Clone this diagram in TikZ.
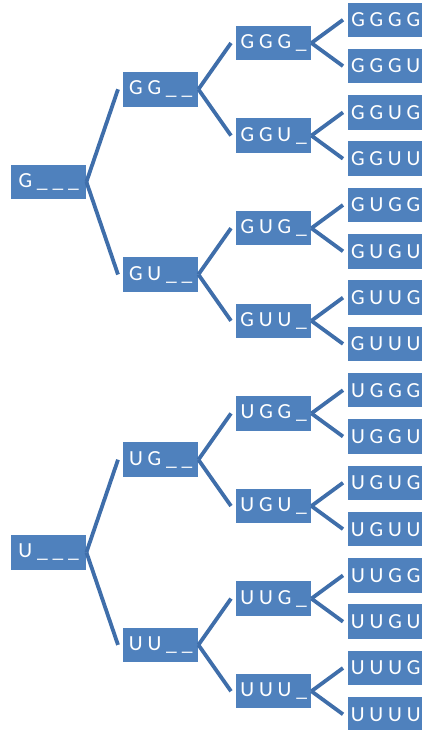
\documentclass[tikz,border=0pt]{standalone}
\usepackage{fontspec}
\setmainfont{Carlito}
\definecolor{boxblue}{HTML}{4F81BD}
\definecolor{lineblue}{HTML}{3F6EAA}
\begin{document}
\begin{tikzpicture}[x=1pt,y=-1pt,
  box/.style={rectangle, fill=boxblue, text=white, anchor=west,
    minimum width=75pt, minimum height=34.5pt, inner xsep=1pt, inner ysep=0pt,
    font=\fontsize{21.5}{22}\selectfont},
  conn/.style={draw=lineblue, line width=3.8pt}]
\useasboundingbox (0,0) rectangle (422,730);
% level 3
\foreach \n/\t [count=\i from 0] in {a/G G G G,b/G G G U,c/G G U G,d/G G U U,e/G U G G,f/G U G U,g/G U U G,h/G U U U,i/U G G G,j/U G G U,k/U G U G,l/U G U U,m/U U G G,n/U U G U,o/U U U G,p/U U U U}{
  \node[box] (L3\n) at (348, {19.8+46.3*\i}) {\t};
}
% level 2
\node[box] (L2a) at (236, 43.0) {G G G \_};
\node[box] (L2b) at (236, 135.6) {G G U \_};
\node[box] (L2c) at (236, 228.2) {G U G \_};
\node[box] (L2d) at (236, 320.8) {G U U \_};
\node[box] (L2e) at (236, 413.4) {U G G \_};
\node[box] (L2f) at (236, 506.0) {U G U \_};
\node[box] (L2g) at (236, 598.6) {U U G \_};
\node[box] (L2h) at (236, 691.2) {U U U \_};
% level 1
\node[box] (L1a) at (123, 89.3) {G G \_ \_};
\node[box] (L1b) at (123, 274.5) {G U \_ \_};
\node[box] (L1c) at (123, 459.7) {U G \_ \_};
\node[box] (L1d) at (123, 644.9) {U U \_ \_};
% level 0
\node[box] (L0a) at (11, 181.9) {G \_ \_ \_};
\node[box] (L0b) at (11, 552.3) {U \_ \_ \_};
% connectors
\foreach \p/\c in {L0a/L1a,L0a/L1b,L0b/L1c,L0b/L1d,
  L1a/L2a,L1a/L2b,L1b/L2c,L1b/L2d,L1c/L2e,L1c/L2f,L1d/L2g,L1d/L2h,
  L2a/L3a,L2a/L3b,L2b/L3c,L2b/L3d,L2c/L3e,L2c/L3f,L2d/L3g,L2d/L3h,
  L2e/L3i,L2e/L3j,L2f/L3k,L2f/L3l,L2g/L3m,L2g/L3n,L2h/L3o,L2h/L3p}{
  \draw[conn] (\p.east) -- ([xshift=-5pt]\c.west);
}
\end{tikzpicture}
\end{document}
